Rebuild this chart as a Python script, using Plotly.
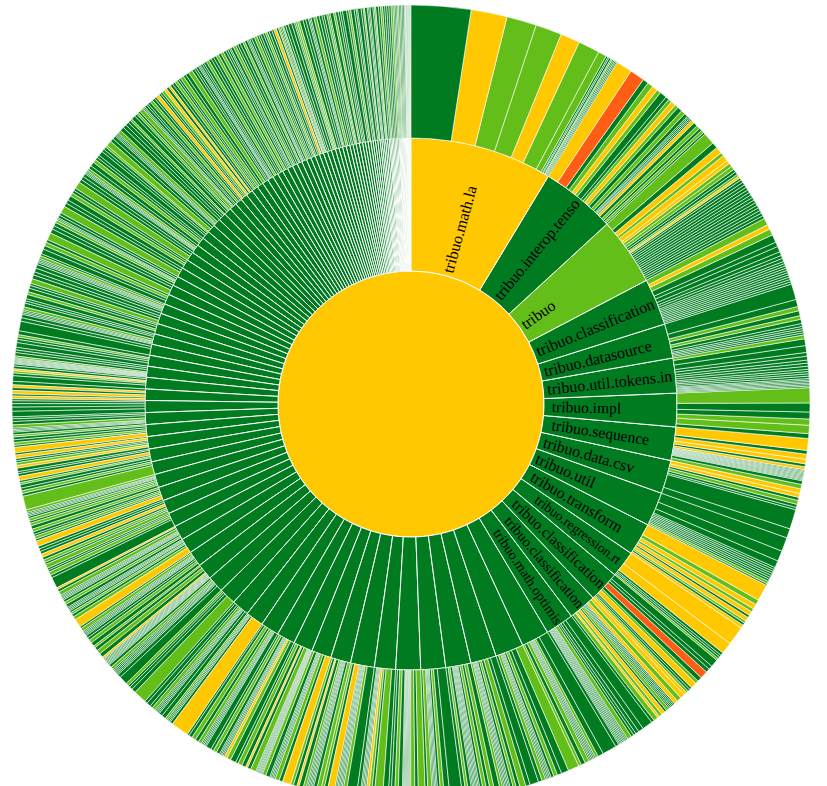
import plotly.graph_objects as go

# Coverage colour classes
COLORS = {"G": "#017B20", "L": "#63BE1A", "Y": "#FFC800", "R": "#FF5C14"}
ROOT_COLOR = "Y"

# Ring 1: packages, in clockwise order from 12 o'clock
PKG_NAMES = [
    "tribuo.math.la", "tribuo.interop.tensorflow", "tribuo", "tribuo.classification",
    "tribuo.datasource", "tribuo.util.tokens.impl", "tribuo.impl", "tribuo.sequence",
    "tribuo.data.csv", "tribuo.util", "tribuo.transform", "tribuo.regression.rtree",
    "tribuo.classification.dtree", "tribuo.classification.sgd", "tribuo.math.optimisers",
] + [f"tribuo.pkg{i}" for i in range(16, 136)]

PKG_TEXT = [
    "tribuo.math.la", "tribuo.interop.tenso", "tribuo", "tribuo.classification",
    "tribuo.datasource", "tribuo.util.tokens.in", "tribuo.impl", "tribuo.sequence",
    "tribuo.data.csv", "tribuo.util", "tribuo.transform", "tribuo.regression.rt",
    "tribuo.classification", "tribuo.classification", "tribuo.math.optimis",
]
PKG_PAD = [9, 0, 22, 0, 4, 0, 14, 6, 8, 16, 5, 1, 0, 0, 0]

PKG_COLOR = {"tribuo.math.la": "Y", "tribuo": "L"}

# angular size (degrees) of each package
PKG_SIZE = [
    31.0, 16.3, 14.8, 10.2, 7.5, 7.6, 7.3, 7.3, 7.3, 7.4, 7.1, 5.8, 6.8, 6.1, 6.2,
    6.0, 6.2, 5.6, 5.5, 5.4, 5.4, 4.6, 5.2, 4.4,
    4.3, 4.2, 4.0, 4.0, 3.9, 3.8, 3.7, 3.6, 3.5, 3.4, 3.3, 3.2, 3.1, 3.0, 3.0, 2.9,
    2.8, 2.8, 2.7, 2.6, 2.6, 2.6,
    2.5, 2.5, 2.4, 2.4, 2.4, 2.3, 2.3, 2.3, 2.2, 2.2, 2.2, 2.1, 2.1,
    2.0, 2.0, 1.9, 1.9, 1.8, 1.8, 1.7, 1.7, 1.6, 1.6, 1.5, 1.5, 1.5, 1.4, 1.4, 1.3,
    1.3, 1.2, 1.2,
    1.2, 1.2, 1.1, 1.1, 1.1, 1.0, 1.0, 1.0, 0.9, 0.9, 0.9, 0.9, 0.8, 0.8, 0.8, 0.8,
    0.7, 0.7, 0.7, 0.7, 0.6, 0.6,
    0.6, 0.5, 0.5, 0.5, 0.5, 0.4, 0.4, 0.4, 0.4, 0.4, 0.3, 0.3, 0.3, 0.3, 0.3, 0.3,
    0.3, 0.2, 0.2, 0.2, 0.2, 0.2, 0.2, 0.2, 0.2, 0.1, 0.1, 0.1, 0.1, 0.1, 0.1, 0.1,
    0.1, 0.1, 0.1,
]

# Ring 2: classes of each package (colour class + relative size, "xN" = N equal slivers)
CHILDREN = [
    "G8.6 Y5.2 L4.3 L3.8 Y2.8 L3.1 L1.2 G0.3 G0.2 G0.3 L0.2 G0.2 G0.2 G0.2 G0.2",
    "Y2.3 R2.1 G0.8 L0.8 Y0.8 L0.6 G1.0 G0.5 L0.5 Y0.7 L0.5 G0.7 L0.6 G0.5 G0.2x4 Y0.5 G0.6 L0.5 G0.4 L0.4 G0.3",
    "L1.6 G0.8 Y0.9 L0.5 Y0.8 Y0.5 L0.5 L0.5 G0.4 G0.4 L0.3 Y0.3 G0.3 G0.4x15",
    "L0.9 Y0.6 L0.8 G1.0 G0.6 G0.7 G0.5 G0.4 G0.4 G0.3 G0.3x9",
    "G2.2 G1.0 L0.6 G0.7 L0.5 G0.6 G0.4 G0.3x4",
    "L0.5 G0.9 G0.9 G0.5 G0.5 G0.4 G0.4 G0.4 G0.3 G0.3 G0.3 G0.3 G0.2x6",
    "L2.2 G1.3 G1.0 L0.9 L1.2 G0.7",
    "Y1.6 G0.5 Y0.7 Y0.6 G0.4 Y0.4 G0.15x10 G0.5 L0.6",
    "Y0.6 Y0.5 G0.4 L0.5 G0.4 G0.3 G2.5 G1.2",
    "G1.6 G1.2 G0.8 G0.25x7 L0.3 G0.2",
    "Y2.0 L0.6 Y0.6 L0.4 Y0.5 G0.3 Y0.5 L0.3 G0.3 Y0.4",
    "Y2.6 Y1.6 G0.4 G0.3 G0.3 L0.3",
    "G1.0 G0.5 G0.5 R1.0 G0.6 L0.4 Y0.8 G0.3 G0.3 L0.3 Y0.4",
    "Y0.6 L0.6 Y0.5 G0.2x5 L0.4 G0.3 Y0.5 L0.4 Y0.3 L0.6 G0.4",
    "G1.2 G0.6 G0.4 G0.3 G0.3 L0.5 G0.15x8 G0.4",
    "G2.0 G0.8 L0.4 G0.2x5 L0.6 G0.6 L0.4",
    "L1.5 G1.0 G0.6 L0.5 G0.4 G0.2x4 L0.5 G0.5",
    "G1.2 G0.6 L0.8 G0.5 L0.4 G0.4 G0.2x5 L0.4",
    "G0.8 L0.6 G0.5 L0.5 G0.4 G0.2x6 G0.5 L0.4 G0.5",
    "G1.8 G0.8 L0.5 G0.4 G0.2x4 L0.6 G0.4",
    "L1.0 G0.5 L0.6 G0.15x8 G0.6 L0.5 G0.5 G0.4",
    "G0.8 L1.2 G0.4 L0.4 Y0.4 G0.2x4 G0.5",
    "G1.5 L0.5 G0.2x6 Y1.0 G0.5 L0.4",
    "L0.6 G0.5 G0.2x5 L0.4 G0.6 Y0.3 G0.5 L0.4",
    "Y1.2 G0.5 L0.6 G0.2x4 G0.6 L0.5",
    "G0.15x7 L0.8 G0.5 Y0.3 G0.6 L0.6 G0.4",
    "G0.8 L0.6 Y0.4 G0.2x4 G0.5 L0.5 G0.4",
    "G0.8 G0.2x4 L0.5 G0.5 L0.6 G0.5 G0.3",
    "Y2.6 G0.4 G0.2x3 L0.3",
    "G0.6 G0.5 G0.2x4 L0.5 G0.4 G0.6 G0.4",
    "L1.8 G0.6 G0.4 G0.3 L0.4",
    "G1.2 G0.5 G0.2x5 L0.4 G0.4",
    "G0.15x8 Y0.3 G0.6 L0.6 G0.5 L0.3",
    "G0.6 L0.5 G0.4 G0.4 G0.2x4 L0.5 G0.3",
    "Y1.2 L0.5 G0.4 L0.3 G0.3 G0.2x3",
    "G0.5 L0.4 G0.4 G0.2x4 L0.6 G0.4 Y0.3",
    "G1.6 G0.4 L0.5 G0.3 G0.3",
    "L0.6 G0.3 L0.4 G0.4 Y0.5 G0.4 G0.4",
    "G0.4 Y0.8 G0.3 L0.4 G0.3 G0.4 L0.4",
    "G0.5 L0.4 G0.3 L0.4 G0.3 G0.2x3 L0.4",
    "L2.0 G0.4 L0.4",
    "G0.4 G0.5 L0.3 G0.3 Y0.6 G0.4 G0.3",
    "G0.5 Y0.4 L0.4 G0.3 G0.3 Y0.5 G0.3",
    "Y0.8 G0.3 L0.4 G0.4 G0.4 L0.3",
    "G0.4 G0.2x3 L0.5 G0.5 G0.4 G0.3",
    "G0.8 G0.6 G0.5 G0.4 G0.3",
    "Y0.4 G0.3 Y0.5 G0.4 Y0.4 G0.5",
    "G0.8 G0.4 L0.3 Y0.3 G0.4 G0.3",
    "G0.15x6 L0.3 G0.5 G0.4 G0.4",
    "G0.6 G0.4 G0.3 L0.3 G0.5",
    "G1.4 G0.5 G0.5",
    "G0.2x3 L0.4 G0.5 G0.3 G0.3",
    "G0.6 L0.4 G0.5 G0.4 G0.3",
    "L0.6 G0.5 G0.4 G0.5",
    "G0.5 G0.3 G0.2x3 L0.4 G0.3",
    "G0.7 G0.5 L0.5 G0.4",
    "L1.0 G0.6 G0.5",
    "G0.5 L0.4 G0.2x2 G0.4 G0.4",
    "L1.0 G0.5 G0.5",
    "G0.7 L0.5 G0.4 G0.4",
    "L1.0 G0.5 G0.5",
    "G0.5 G0.2x3 L0.4 G0.5",
    "G0.6 L0.5 G0.4 G0.4",
    "G0.7 G0.4 G0.4 L0.3",
    "L0.8 G0.5 G0.5",
    "G0.2x3 L0.5 G0.6",
    "G0.5 G0.5 G0.4 L0.3",
    "G0.6 G0.4 L0.3 G0.3",
    "L0.6 G0.2x2 G0.4 G0.3",
    "G0.4 L0.4 G0.4 G0.3",
    "Y0.5 G0.3 G0.3 L0.4",
    "Y0.4 G0.4 Y0.3 G0.4",
    "G0.4 L0.4 G0.3 G0.3",
    "L0.5 G0.4 G0.5",
    "L0.6 G0.4 G0.3",
    "G0.4 G0.2x2 G0.3 G0.3",
    "G0.4 L0.4 G0.4",
    "G0.4 G0.4 L0.4",
    "G0.4 L0.4 G0.4",
    "G0.3 G0.3 G0.2 G0.4",
    "L0.4 G0.3 G0.4",
    "G0.4 L0.3 G0.4",
    "G0.2x2 G0.3 G0.4",
    "L0.4 G0.3 G0.3",
    "G0.4 G0.3 L0.3",
    "G0.3 G0.4 G0.3",
    "Y0.4 G0.3 L0.2",
    "G0.2x2 L0.2 G0.3",
    "G0.4 G0.5",
    "G0.4 G0.2 L0.3",
    "L0.3 G0.5",
    "G0.4 G0.4",
    "G0.2x2 G0.4",
    "L0.4 G0.4",
    "G0.4 G0.3",
    "G0.4 L0.3",
    "G0.2 G0.5",
    "L0.3 G0.4",
    "G0.3 G0.3",
    "G0.6",
    "G0.3 L0.3",
    "G0.5",
    "G0.3 G0.2",
    "G0.5",
    "G0.3 L0.2",
    "G0.4",
    "G0.2 G0.2",
    "G0.4",
    "G0.2 L0.2",
    "G0.4",
    "G0.3",
    "L0.3",
    "G0.3",
    "G0.3",
    "G0.3",
    "G0.3",
    "L0.3",
    "G0.2",
    "G0.2",
    "G0.2",
    "L0.2",
    "G0.2",
    "G0.2",
    "G0.2",
    "G0.2",
    "G0.1",
    "L0.1",
    "G0.1",
    "G0.1",
    "G0.1",
    "G0.1",
    "L0.1",
    "G0.1",
    "G0.1",
    "G0.1",
]

assert len(PKG_NAMES) == len(PKG_SIZE) == len(CHILDREN)


def parse_children(spec):
    out = []
    for tok in spec.split():
        code = tok[0]
        body = tok[1:]
        if "x" in body:
            w, n = body.split("x")
            out.extend([(code, float(w))] * int(n))
        else:
            out.append((code, float(body)))
    return out


ids, labels, parents, values, colors, texts, widths = [], [], [], [], [], [], []
ids.append("root"); labels.append("tribuo"); parents.append(""); values.append(0)
colors.append(COLORS[ROOT_COLOR]); texts.append(""); widths.append(1)

NBSP = "\u00a0"
# plotly draws sectors counter-clockwise; reverse order so the chart reads clockwise from 12 o'clock
for i in reversed(range(len(PKG_NAMES))):
    pid = f"pkg{i}"
    ids.append(pid); labels.append(PKG_NAMES[i]); parents.append("root"); values.append(0)
    colors.append(COLORS[PKG_COLOR.get(PKG_NAMES[i], "G")]); widths.append(1)
    if i < len(PKG_TEXT):
        texts.append(PKG_TEXT[i] + NBSP * PKG_PAD[i])
    else:
        texts.append("")
    kids = parse_children(CHILDREN[i])
    tot = sum(w for _, w in kids)
    for j in reversed(range(len(kids))):
        code, w = kids[j]
        ids.append(f"{pid}/c{j}"); labels.append(f"{PKG_NAMES[i]}.C{j}")
        parents.append(pid); values.append(PKG_SIZE[i] * w / tot)
        colors.append(COLORS[code]); texts.append(""); widths.append(0.6)

fig = go.Figure(go.Sunburst(
    ids=ids, labels=labels, parents=parents, values=values,
    branchvalues="remainder", sort=False, rotation=90,
    text=texts, texttemplate="%{text}", insidetextorientation="radial",
    textfont=dict(family="Liberation Serif, Times New Roman, serif", size=16, color="#000000"),
    marker=dict(colors=colors, line=dict(color="white", width=widths)),
    leaf=dict(opacity=1), hoverinfo="label",
))
fig.update_layout(
    width=827, height=803, margin=dict(l=0, r=5, t=5, b=0),
    paper_bgcolor="white", uniformtext=dict(minsize=16, mode="show"),
)
fig.write_html("out.html")
